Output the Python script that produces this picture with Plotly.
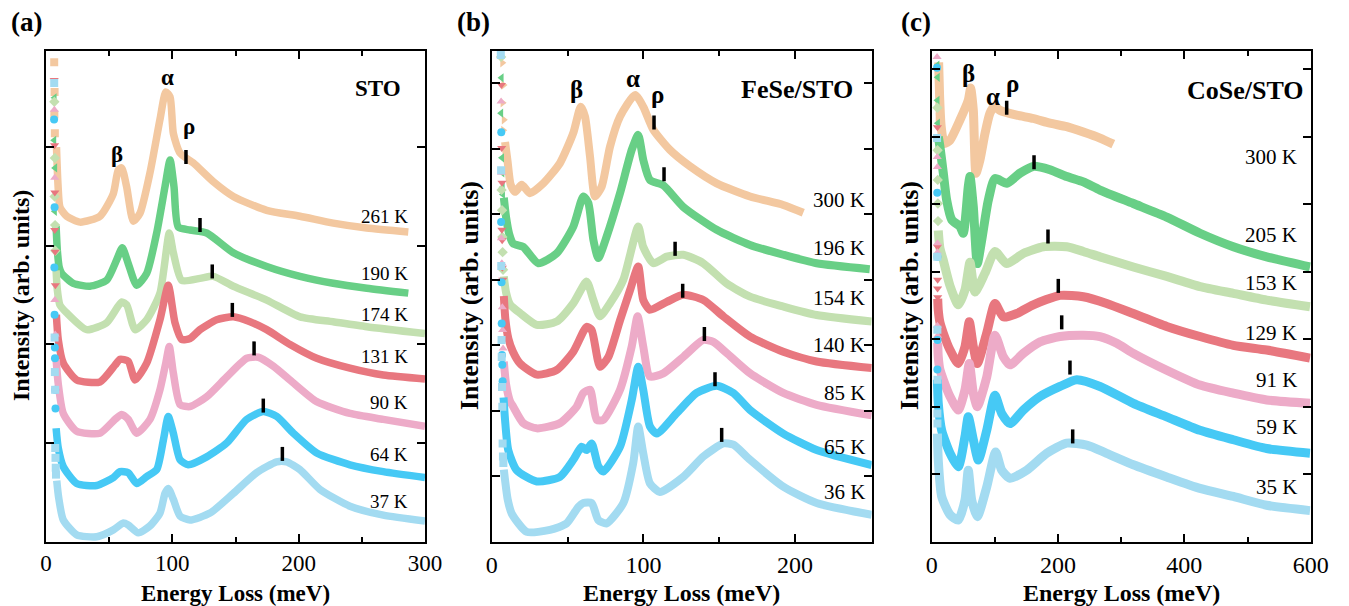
import plotly.graph_objects as go

# ---------------- colours / symbols per temperature index ----------------
COLORS = ["#F3C8A0", "#68CF86", "#C3E0B0", "#E8777F", "#EDABC8", "#46C9F5", "#A3DBF1"]

# ---------------- panel (a) STO ----------------
A_LABELS = ["261 K", "190 K", "174 K", "131 K", "90 K", "64 K", "37 K"]
A_SYMBOLS = ["square", "triangle-left", "diamond", "triangle-down", "triangle-up", "circle", "square"]

A261_X = [8.3, 9.5, 11.1, 16.4, 26.9, 42.7, 53.3, 57.2, 59.9, 63.8, 69.1, 74.4, 82.3, 90.2, 94.8, 98.2, 100.8, 106.1, 116.6, 132.4, 148.3, 174.7, 201.1, 227.4, 253.9, 286.8]
A261_Y = [4.00, 3.62, 3.39, 3.30, 3.24, 3.30, 3.53, 3.77, 3.79, 3.60, 3.25, 3.33, 3.74, 4.28, 4.56, 4.51, 4.14, 3.94, 3.84, 3.65, 3.50, 3.36, 3.30, 3.23, 3.18, 3.14]
A190_X = [8.0, 9.0, 10.5, 12.4, 21.6, 34.8, 48.0, 56.0, 60.4, 65.1, 71.8, 79.7, 87.6, 94.2, 98.2, 101.3, 104.7, 114.0, 127.2, 148.3, 174.7, 201.1, 227.4, 253.9, 286.8]
A190_Y = [3.20, 2.95, 2.78, 2.72, 2.62, 2.59, 2.65, 2.86, 2.98, 2.82, 2.60, 2.72, 3.13, 3.60, 3.87, 3.60, 3.19, 3.16, 3.13, 2.93, 2.79, 2.69, 2.62, 2.57, 2.52]
A174_X = [8.0, 9.0, 11.0, 16.4, 32.2, 48.0, 59.9, 63.9, 70.5, 79.7, 90.2, 97.6, 100.8, 107.4, 121.9, 132.4, 148.3, 174.7, 201.1, 227.4, 253.9, 300]
A174_Y = [2.75, 2.55, 2.40, 2.32, 2.15, 2.22, 2.43, 2.40, 2.15, 2.25, 2.52, 3.13, 2.93, 2.65, 2.67, 2.69, 2.59, 2.45, 2.28, 2.23, 2.18, 2.11]
A131_X = [8.2, 9.7, 13.7, 24.3, 42.7, 54.6, 58.6, 65.1, 70.5, 79.7, 90.2, 96.8, 102.1, 107.4, 114.0, 121.9, 135.1, 148.3, 161.5, 174.7, 193.2, 214.3, 240.6, 267.0, 300]
A131_Y = [2.30, 2.05, 1.81, 1.64, 1.62, 1.79, 1.85, 1.83, 1.64, 1.81, 2.25, 2.60, 2.22, 2.05, 2.06, 2.15, 2.25, 2.28, 2.23, 2.15, 2.00, 1.86, 1.76, 1.69, 1.65]
A90_X = [8.0, 9.7, 13.7, 24.3, 42.7, 54.6, 59.9, 65.1, 71.8, 82.3, 90.2, 94.8, 97.6, 100.8, 106.1, 114.0, 127.2, 143.0, 158.9, 168.1, 179.9, 195.8, 214.3, 240.6, 267.0, 300]
A90_Y = [1.85, 1.60, 1.30, 1.12, 1.10, 1.24, 1.29, 1.24, 1.10, 1.24, 1.54, 1.81, 1.98, 1.71, 1.39, 1.37, 1.47, 1.67, 1.86, 1.87, 1.78, 1.61, 1.42, 1.30, 1.24, 1.17]
A64_X = [8.0, 9.7, 13.7, 24.3, 40.1, 53.3, 58.6, 65.1, 71.8, 79.7, 87.6, 92.9, 96.8, 100.8, 106.1, 112.6, 127.2, 143.0, 158.9, 172.0, 182.6, 195.8, 214.3, 240.6, 267.0, 300]
A64_Y = [1.15, 0.95, 0.76, 0.59, 0.57, 0.65, 0.71, 0.70, 0.59, 0.66, 0.73, 1.03, 1.27, 1.10, 0.83, 0.78, 0.86, 1.00, 1.24, 1.32, 1.27, 1.10, 0.90, 0.78, 0.71, 0.65]
A37_X = [8.5, 10.0, 13.7, 24.3, 40.1, 53.3, 61.2, 65.1, 73.1, 82.3, 90.2, 94.2, 96.8, 100.8, 106.1, 114.0, 129.8, 148.3, 166.8, 182.6, 190.5, 201.1, 216.9, 240.6, 267.0, 300]
A37_Y = [0.62, 0.45, 0.22, 0.07, 0.05, 0.12, 0.19, 0.17, 0.09, 0.16, 0.29, 0.49, 0.54, 0.43, 0.26, 0.22, 0.29, 0.49, 0.70, 0.81, 0.81, 0.73, 0.53, 0.36, 0.27, 0.21]

A_TAIL_X = [[6.5, 6.8, 6.6, 7.0], [6.8, 6.5, 7.2, 7.0], [6.6, 7.0, 6.8, 7.2, 7.4],
            [6.5, 6.8, 7.0, 6.9, 7.2, 7.4], [6.6, 6.9, 7.0, 7.3],
            [6.4, 6.8, 6.6, 6.8, 7.0, 7.1, 7.3, 7.5], [6.5, 6.8, 7.0, 7.2, 7.3, 7.5, 7.7, 7.9]]
A_TAIL_Y = [[4.86, 4.56, 4.33, 4.14], [4.50, 4.07, 3.79, 3.35], [4.46, 3.89, 3.50, 3.21, 2.95],
            [4.68, 4.02, 3.54, 3.16, 2.94, 2.60], [4.38, 3.69, 2.45, 2.10],
            [4.28, 3.39, 2.78, 2.30, 1.97, 1.86, 1.54, 1.35], [4.65, 2.07, 1.72, 1.54, 0.95, 0.85, 0.75, 0.68]]
A_PEAK_X = [110.8, 121.9, 131.6, 147.5, 164.7, 172.0, 187.1]
A_PEAK_Y = [3.90, 3.21, 2.74, 2.35, 1.96, 1.38, 0.89]
A_LABEL_Y = [3.30, 2.72, 2.30, 1.88, 1.41, 0.88, 0.41]

# ---------------- panel (b) FeSe/STO ----------------
B_LABELS = ["300 K", "196 K", "154 K", "140 K", "85 K", "65 K", "36 K"]
B_SYMBOLS = ["triangle-right", "triangle-left", "diamond", "triangle-down", "triangle-up", "circle", "square"]

B300_X = [8.8, 10.5, 12.5, 15.4, 19.8, 25.2, 34.0, 45.0, 53.8, 58.7, 61.5, 64.8, 68.1, 72.5, 78.0, 84.6, 94.5, 99.9, 106.5, 117.5, 130.7, 148.3, 170.3, 192.2, 205.4]
B300_Y = [6.10, 5.80, 5.45, 5.34, 5.45, 5.32, 5.47, 5.78, 6.24, 6.64, 6.49, 5.88, 5.27, 5.42, 6.03, 6.49, 6.82, 6.64, 6.29, 5.98, 5.73, 5.47, 5.27, 5.14, 5.02]
B196_X = [8.0, 9.5, 11.5, 14.2, 20.8, 30.7, 42.8, 53.8, 60.4, 63.7, 67.0, 70.3, 75.8, 84.6, 92.3, 96.6, 99.9, 104.3, 113.1, 126.3, 148.3, 170.3, 192.2, 214.2, 249.2]
B196_Y = [5.25, 4.95, 4.70, 4.55, 4.50, 4.25, 4.40, 4.81, 5.27, 5.17, 4.61, 4.33, 4.66, 5.32, 5.98, 6.21, 5.83, 5.52, 5.44, 5.11, 4.76, 4.53, 4.38, 4.25, 4.16]
B154_X = [8.0, 9.5, 12.1, 18.7, 29.7, 42.8, 53.8, 62.6, 67.0, 71.4, 78.0, 86.8, 96.6, 99.9, 106.5, 115.4, 126.3, 139.5, 154.9, 170.3, 192.2, 214.2, 250.5]
B154_Y = [4.05, 3.80, 3.62, 3.49, 3.31, 3.36, 3.64, 3.97, 3.69, 3.44, 3.64, 4.00, 4.81, 4.50, 4.25, 4.35, 4.38, 4.25, 3.94, 3.74, 3.59, 3.46, 3.36]
B140_X = [8.0, 9.0, 11.0, 14.0, 18.7, 29.7, 42.8, 53.8, 62.6, 65.9, 71.4, 76.9, 84.6, 91.2, 96.6, 99.9, 104.3, 115.4, 126.3, 139.5, 152.7, 170.3, 192.2, 214.2, 250.5]
B140_Y = [3.75, 3.40, 3.10, 2.90, 2.72, 2.55, 2.62, 2.90, 3.28, 3.23, 2.67, 2.82, 3.38, 3.84, 4.20, 3.69, 3.54, 3.66, 3.77, 3.69, 3.44, 3.13, 2.90, 2.75, 2.65]
B85_X = [8.0, 9.5, 12.0, 14.2, 20.8, 29.7, 45.0, 56.0, 60.4, 64.8, 69.2, 73.6, 84.6, 92.3, 96.2, 99.9, 104.3, 113.1, 126.3, 139.5, 146.1, 154.9, 170.3, 192.2, 214.2, 250.5]
B85_Y = [2.75, 2.40, 2.15, 2.06, 1.81, 1.73, 1.81, 2.06, 2.27, 2.32, 1.86, 1.86, 2.32, 2.98, 3.44, 2.98, 2.52, 2.57, 2.82, 3.08, 3.05, 2.88, 2.57, 2.27, 2.09, 1.93]
B65_X = [7.8, 8.8, 10.9, 16.5, 29.7, 45.0, 53.8, 59.3, 62.6, 65.9, 70.3, 73.6, 84.6, 92.3, 96.6, 99.9, 104.3, 108.8, 121.9, 135.1, 148.3, 159.3, 170.3, 192.2, 214.2, 250.5]
B65_Y = [2.20, 1.86, 1.40, 1.09, 0.92, 0.99, 1.25, 1.45, 1.40, 1.50, 1.15, 1.07, 1.45, 2.16, 2.67, 2.32, 1.76, 1.65, 1.96, 2.27, 2.38, 2.27, 2.01, 1.65, 1.40, 1.17]
B36_X = [8.0, 8.8, 10.5, 13.2, 23.1, 38.4, 49.4, 57.1, 60.4, 65.9, 70.3, 75.8, 86.8, 93.3, 96.6, 99.9, 104.3, 110.9, 126.3, 139.5, 152.7, 159.3, 170.3, 192.2, 214.2, 250.5]
B36_Y = [1.10, 0.94, 0.65, 0.43, 0.15, 0.18, 0.28, 0.53, 0.59, 0.59, 0.33, 0.28, 0.59, 1.20, 1.76, 1.35, 0.89, 0.76, 0.99, 1.30, 1.50, 1.48, 1.25, 0.84, 0.59, 0.41]

B_TAIL_X = [[7.0, 7.8, 7.2, 8.0, 7.6], [6.5, 6.2, 6.8, 7.0, 7.2, 7.4], [6.2, 6.5, 6.8, 7.0, 7.2, 7.5],
            [6.4, 6.6, 6.8, 6.7, 6.9, 7.0, 7.3], [6.2, 6.5, 6.4, 6.7, 7.0, 7.2, 7.5],
            [6.3, 6.2, 6.5, 6.6, 6.8, 7.0, 7.2], [6.0, 6.2, 6.3, 6.5, 6.6, 6.8, 7.0, 7.2, 7.4, 7.7]]
B_TAIL_Y = [[7.31, 6.97, 6.70, 6.44, 6.28], [7.08, 6.54, 5.86, 5.63, 5.41, 5.30], [7.40, 5.37, 5.06, 4.65, 4.42, 4.15],
            [6.97, 6.01, 5.48, 4.76, 4.60, 4.18, 4.00], [6.72, 5.63, 4.63, 4.25, 3.58, 3.23, 2.95],
            [6.25, 4.88, 3.96, 3.33, 2.85, 2.70, 2.45], [7.43, 5.67, 4.21, 3.08, 2.82, 2.36, 2.06, 1.50, 1.30, 1.20]]
B_PEAK_X = [107.0, 113.6, 120.9, 125.9, 140.2, 147.2, 151.6]
B_PEAK_Y = [6.40, 5.61, 4.47, 3.83, 3.17, 2.48, 1.63]
B_LABEL_Y = [5.22, 4.48, 3.72, 3.00, 2.27, 1.45, 0.76]

# ---------------- panel (c) CoSe/STO ----------------
C_LABELS = ["300 K", "205 K", "153 K", "129 K", "91 K", "59 K", "35 K"]
C_SYMBOLS = ["triangle-right", "triangle-left", "diamond", "triangle-down", "triangle-up", "circle", "square"]

C300_X = [11.0, 12.5, 15.0, 20.0, 29.0, 44.8, 57.9, 61.7, 65.9, 70.1, 76.5, 84.4, 92.3, 99.1, 108.1, 134.6, 160.8, 187.3, 213.7, 240.0, 266.4, 287.5]
C300_Y = [7.10, 6.60, 6.15, 5.90, 5.95, 6.25, 6.54, 6.72, 6.39, 5.46, 5.66, 6.05, 6.35, 6.45, 6.39, 6.32, 6.27, 6.20, 6.15, 6.07, 5.98, 5.89]
C205_X = [10.5, 13.1, 18.4, 23.7, 31.7, 44.8, 50.0, 57.9, 60.6, 65.9, 72.2, 79.2, 89.6, 100.2, 118.7, 139.8, 160.8, 187.3, 213.7, 240.0, 266.4, 319.2, 372.0, 424.7, 477.5, 530.3, 598.9]
C205_Y = [6.00, 5.85, 5.46, 5.06, 4.77, 4.67, 4.57, 5.26, 5.41, 4.96, 4.12, 4.47, 5.06, 5.38, 5.31, 5.46, 5.56, 5.51, 5.41, 5.33, 5.21, 5.01, 4.81, 4.57, 4.37, 4.22, 4.07]
C153_X = [10.4, 13.0, 18.4, 29.0, 42.1, 52.7, 60.6, 68.5, 84.4, 100.2, 118.7, 145.0, 176.7, 213.7, 240.0, 266.4, 319.2, 372.0, 424.7, 477.5, 530.3, 598.9]
C153_Y = [4.61, 4.35, 4.17, 3.79, 3.51, 3.73, 4.14, 3.70, 3.98, 4.30, 4.12, 4.27, 4.37, 4.37, 4.30, 4.22, 4.07, 3.93, 3.78, 3.68, 3.58, 3.48]
C129_X = [9.5, 10.4, 13.0, 18.4, 29.0, 42.1, 52.7, 59.5, 65.9, 72.2, 87.1, 100.2, 113.4, 134.6, 160.8, 203.1, 240.0, 277.0, 319.2, 372.0, 424.7, 477.5, 530.3, 598.9]
C129_Y = [3.60, 3.43, 3.25, 3.09, 2.84, 2.64, 2.89, 3.26, 2.89, 2.64, 3.09, 3.53, 3.33, 3.38, 3.51, 3.65, 3.63, 3.53, 3.38, 3.19, 3.04, 2.91, 2.84, 2.72]
C91_X = [9.5, 10.4, 13.0, 18.4, 29.0, 42.1, 52.7, 59.5, 65.9, 72.2, 87.1, 100.2, 113.4, 124.0, 145.0, 171.5, 203.1, 240.0, 266.4, 292.9, 319.2, 372.0, 424.7, 477.5, 530.3, 598.9]
C91_Y = [2.95, 2.74, 2.55, 2.40, 2.15, 1.95, 2.25, 2.64, 2.20, 2.00, 2.44, 3.06, 2.74, 2.62, 2.79, 2.96, 3.04, 3.06, 3.04, 2.94, 2.79, 2.54, 2.32, 2.20, 2.10, 2.05]
C59_X = [9.0, 10.4, 15.8, 29.0, 42.1, 52.7, 57.9, 65.9, 73.8, 87.1, 100.2, 110.8, 124.0, 145.0, 171.5, 203.1, 229.6, 266.4, 319.2, 372.0, 424.7, 477.5, 530.3, 598.9]
C59_Y = [2.40, 2.05, 1.65, 1.31, 1.11, 1.56, 1.85, 1.51, 1.21, 1.65, 2.17, 1.90, 1.75, 1.95, 2.15, 2.30, 2.40, 2.30, 2.05, 1.85, 1.65, 1.51, 1.38, 1.31]
C35_X = [9.0, 10.4, 15.8, 29.0, 42.1, 52.7, 57.9, 63.3, 72.2, 87.1, 101.3, 110.8, 124.0, 150.4, 182.1, 213.7, 245.4, 277.0, 319.2, 372.0, 424.7, 477.5, 530.3, 598.9]
C35_Y = [1.60, 1.21, 0.67, 0.40, 0.32, 0.62, 1.06, 0.62, 0.37, 0.81, 1.33, 1.06, 0.94, 1.06, 1.31, 1.46, 1.43, 1.31, 1.14, 0.96, 0.79, 0.67, 0.54, 0.46]

C_TAIL_X = [[9.0, 9.5, 10.0, 9.5], [9.0, 9.5, 9.2, 9.8], [9.0, 9.3, 9.6, 9.8, 10.0],
            [9.0, 9.2, 9.4, 9.3, 9.5], [8.5, 8.8, 9.0, 9.2, 9.3, 9.0, 9.4],
            [8.5, 8.8, 9.0, 9.2, 9.0], [8.5, 8.8, 9.0, 9.2, 9.0, 9.1]]
C_TAIL_Y = [[6.84, 6.65, 6.47, 6.29], [7.06, 6.88, 6.54, 6.20], [6.43, 5.80, 5.36, 5.01, 4.75],
            [6.14, 4.37, 3.88, 3.75, 3.62], [7.18, 5.70, 5.55, 4.42, 4.29, 3.20, 3.05],
            [7.02, 5.17, 4.22, 2.99, 2.55], [5.98, 4.22, 3.14, 2.40, 1.90, 1.75]]
C_PEAK_X = [118.7, 162.0, 184.1, 200.4, 205.8, 218.9, 223.2]
C_PEAK_Y = [6.43, 5.62, 4.52, 3.79, 3.25, 2.58, 1.56]
C_LABEL_Y = [5.70, 4.54, 3.83, 3.09, 2.40, 1.70, 0.81]

# ---------------- figure ----------------
W, H = 1349, 606
FONT = "Liberation Serif, Times New Roman, serif"

PANELS = [
    dict(key="a", curves=[(A261_X, A261_Y), (A190_X, A190_Y), (A174_X, A174_Y), (A131_X, A131_Y),
                          (A90_X, A90_Y), (A64_X, A64_Y), (A37_X, A37_Y)],
         tx=A_TAIL_X, ty=A_TAIL_Y, px=A_PEAK_X, py=A_PEAK_Y, labels=A_LABELS, ly=A_LABEL_Y,
         lx=288.0, sym=A_SYMBOLS, lw=7.5, ms=8,
         dom=[46, 425], xr=[0, 300], yr=[0, 4.975], ny=4, xt=[0, 100, 200, 300], minor=50,
         tfs=23, lfs=19, sfs=23, gfs=23, name="STO", name_xy=(282.4, 4.59),
         greek=[("α", 96.0, 4.71), ("β", 56.0, 3.93), ("ρ", 113.2, 4.21)],
         panel_lbl=("(a)", 26), ytitle_x=21, xtitle_fs=23, ytitle_fs=24),
    dict(key="b", curves=[(B300_X, B300_Y), (B196_X, B196_Y), (B154_X, B154_Y), (B140_X, B140_Y),
                          (B85_X, B85_Y), (B65_X, B65_Y), (B36_X, B36_Y)],
         tx=B_TAIL_X, ty=B_TAIL_Y, px=B_PEAK_X, py=B_PEAK_Y, labels=B_LABELS, ly=B_LABEL_Y,
         lx=247.2, sym=B_SYMBOLS, lw=8, ms=8,
         dom=[491.7, 871.7], xr=[0, 250.5], yr=[0, 7.49], ny=7, xt=[0, 100, 200], minor=50,
         tfs=24, lfs=21, sfs=26, gfs=25, name="FeSe/STO", name_xy=(239.5, 6.90),
         greek=[("α", 92.9, 7.07), ("β", 55.6, 6.90), ("ρ", 109.2, 6.83)],
         panel_lbl=("(b)", 473), ytitle_x=469, xtitle_fs=24, ytitle_fs=26),
    dict(key="c", curves=[(C300_X, C300_Y), (C205_X, C205_Y), (C153_X, C153_Y), (C129_X, C129_Y),
                          (C91_X, C91_Y), (C59_X, C59_Y), (C35_X, C35_Y)],
         tx=C_TAIL_X, ty=C_TAIL_Y, px=C_PEAK_X, py=C_PEAK_Y, labels=C_LABELS, ly=C_LABEL_Y,
         lx=581.9, sym=C_SYMBOLS, lw=9, ms=8,
         dom=[931.7, 1310.7], xr=[0, 600], yr=[0, 7.27], ny=7, xt=[0, 200, 400, 600], minor=100,
         tfs=24, lfs=21, sfs=26, gfs=25, name="CoSe/STO", name_xy=(592.5, 6.69),
         greek=[("β", 57.9, 6.93), ("α", 97.5, 6.60), ("ρ", 128.2, 6.79)],
         panel_lbl=("(c)", 916), ytitle_x=909, xtitle_fs=24, ytitle_fs=26),
]

fig = go.Figure()
annotations = []
ydom = [1 - 541.7 / H, 1 - 51 / H]

for i, P in enumerate(PANELS):
    sfx = "" if i == 0 else str(i + 1)
    xa, ya = "x" + sfx, "y" + sfx
    for k, (cx, cy) in enumerate(P["curves"]):
        fig.add_trace(go.Scatter(x=cx, y=cy, mode="lines", xaxis=xa, yaxis=ya,
                                 line=dict(color=COLORS[k], width=P["lw"], shape="spline", smoothing=0.6),
                                 showlegend=False, hoverinfo="skip"))
        fig.add_trace(go.Scatter(x=P["tx"][k], y=P["ty"][k], mode="markers", xaxis=xa, yaxis=ya,
                                 marker=dict(color=COLORS[k], symbol=P["sym"][k], size=P["ms"]),
                                 showlegend=False, hoverinfo="skip"))
    fig.add_trace(go.Scatter(x=P["px"], y=P["py"], mode="markers", xaxis=xa, yaxis=ya,
                             marker=dict(symbol="line-ns", size=10, line=dict(color="black", width=3.5)),
                             showlegend=False, hoverinfo="skip"))
    axis_common = dict(showline=True, linecolor="black", linewidth=2, mirror="allticks",
                       ticks="inside", tickcolor="black", tickwidth=2, showgrid=False, zeroline=False,
                       automargin=False)
    fig.layout["xaxis" + sfx] = dict(domain=[P["dom"][0] / W, P["dom"][1] / W], range=P["xr"], anchor=ya,
                                    tickvals=P["xt"], ticklen=8, ticklabelstandoff=0,
                                    tickfont=dict(family=FONT, size=P["tfs"], color="black"),
                                    minor=dict(dtick=P["minor"], ticks="inside", ticklen=5, tickwidth=2,
                                               tickcolor="black", showgrid=False),
                                    **axis_common)
    fig.layout["yaxis" + sfx] = dict(domain=ydom, range=P["yr"], anchor=xa,
                                    tickvals=list(range(1, P["ny"] + 1)), ticklen=8, showticklabels=False,
                                    **axis_common)
    for lab, yv in zip(P["labels"], P["ly"]):
        annotations.append(dict(x=P["lx"], y=yv, xref=xa, yref=ya, text=lab, showarrow=False,
                                xanchor="right", yanchor="middle",
                                font=dict(family=FONT, size=P["lfs"], color="black")))
    annotations.append(dict(x=P["name_xy"][0], y=P["name_xy"][1], xref=xa, yref=ya,
                            text="<b>%s</b>" % P["name"], showarrow=False, xanchor="right", yanchor="middle",
                            font=dict(family=FONT, size=P["sfs"], color="black")))
    for g, gx, gy in P["greek"]:
        annotations.append(dict(x=gx, y=gy, xref=xa, yref=ya, text="<b>%s</b>" % g, showarrow=False,
                                xanchor="center", yanchor="middle",
                                font=dict(family=FONT, size=P["gfs"], color="black")))
    annotations.append(dict(x=P["panel_lbl"][1] / W, y=1 - 22 / H, xref="paper", yref="paper",
                            text="<b>%s</b>" % P["panel_lbl"][0], showarrow=False,
                            xanchor="center", yanchor="middle",
                            font=dict(family=FONT, size=27, color="black")))
    xc = (P["dom"][0] + P["dom"][1]) / 2 / W
    annotations.append(dict(x=xc, y=1 - 593 / H, xref="paper", yref="paper",
                            text="<b>Energy Loss (meV)</b>", showarrow=False,
                            xanchor="center", yanchor="middle",
                            font=dict(family=FONT, size=P["xtitle_fs"], color="black")))
    annotations.append(dict(x=P["ytitle_x"] / W, y=1 - 296 / H, xref="paper", yref="paper",
                            text="<b>Intensity (arb. units)</b>", showarrow=False, textangle=-90,
                            xanchor="center", yanchor="middle",
                            font=dict(family=FONT, size=P["ytitle_fs"], color="black")))

fig.update_layout(template="none", width=W, height=H, autosize=False,
                  margin=dict(l=0, r=0, t=0, b=0, pad=0, autoexpand=False),
                  paper_bgcolor="white", plot_bgcolor="white",
                  annotations=annotations, font=dict(family=FONT, color="black"))

POST = ("document.body.style.margin='0px';document.body.style.padding='0px';"
        "document.body.style.overflow='hidden';document.documentElement.style.overflow='hidden';")
fig.write_html("out.html", config={"responsive": False, "displayModeBar": False}, post_script=POST)
